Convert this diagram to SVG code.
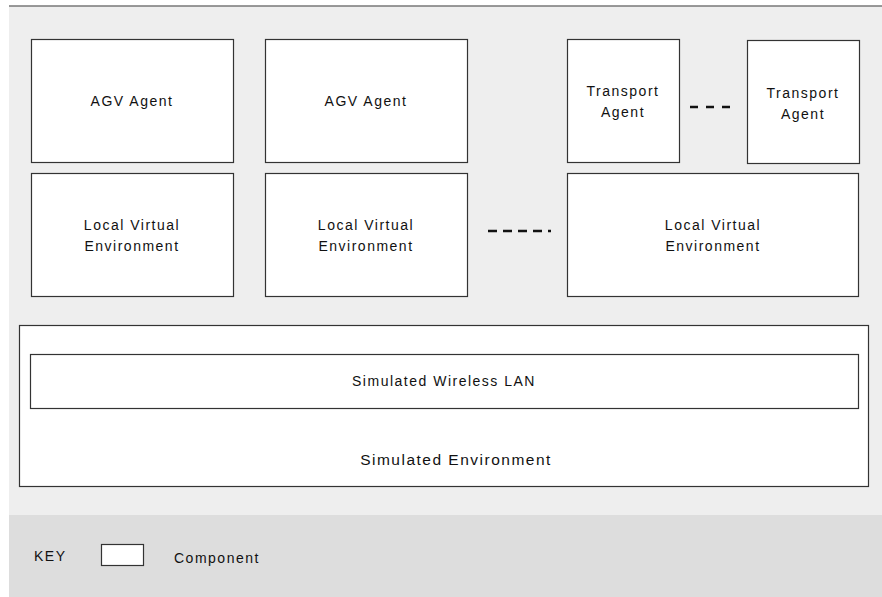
<svg xmlns="http://www.w3.org/2000/svg" width="882" height="597" viewBox="0 0 882 597">
<style>
.box{fill:#fff;stroke:#333;stroke-width:1.2}
.t{font-family:"Liberation Sans",Arial,sans-serif;font-size:14px;letter-spacing:1.5px;fill:#111;text-anchor:middle}
.dash{stroke:#111;stroke-width:2.4;fill:none}
</style>
<rect x="9" y="6" width="873" height="509" fill="#eeeeee"/>
<rect x="9" y="515" width="873" height="82" fill="#dddddd"/>
<line x1="9" y1="6" x2="882" y2="6" stroke="#777" stroke-width="1.5"/>
<g id="agv1"><rect class="box" x="31.5" y="39.5" width="202" height="123"/><text class="t" x="132" y="106">AGV Agent</text></g>
<g id="agv2"><rect class="box" x="265.5" y="39.5" width="202" height="123"/><text class="t" x="366" y="106">AGV Agent</text></g>
<g id="transport1"><rect class="box" x="567.5" y="39.5" width="112" height="123"/><text class="t" x="623" y="96">Transport</text><text class="t" x="623" y="117">Agent</text></g>
<g id="transport2"><rect class="box" x="747.5" y="40.5" width="112" height="123"/><text class="t" x="803" y="98">Transport</text><text class="t" x="803" y="119">Agent</text></g>
<g id="lve1"><rect class="box" x="31.5" y="173.5" width="202" height="123"/><text class="t" x="132" y="230">Local Virtual</text><text class="t" x="132" y="251">Environment</text></g>
<g id="lve2"><rect class="box" x="265.5" y="173.5" width="202" height="123"/><text class="t" x="366" y="230">Local Virtual</text><text class="t" x="366" y="251">Environment</text></g>
<g id="lve3"><rect class="box" x="567.5" y="173.5" width="291" height="123"/><text class="t" x="713" y="230">Local Virtual</text><text class="t" x="713" y="251">Environment</text></g>
<g id="simenv"><rect class="box" x="19.5" y="325.5" width="849" height="161"/><text class="t" x="456" y="465" style="font-size:15.5px">Simulated Environment</text></g>
<g id="wlan"><rect class="box" x="30.5" y="354.5" width="828" height="54"/><text class="t" x="444" y="386">Simulated Wireless LAN</text></g>
<g id="connectors">
<line class="dash" x1="690" y1="107" x2="730" y2="107" stroke-dasharray="8,8"/>
<line class="dash" x1="488" y1="231" x2="551" y2="231" stroke-dasharray="9,6"/>
</g>
<g id="key">
<text class="t" x="34" y="561" style="text-anchor:start">KEY</text>
<rect class="box" x="101.5" y="544.5" width="42" height="21"/>
<text class="t" x="174" y="563" style="text-anchor:start">Component</text>
</g>
</svg>
